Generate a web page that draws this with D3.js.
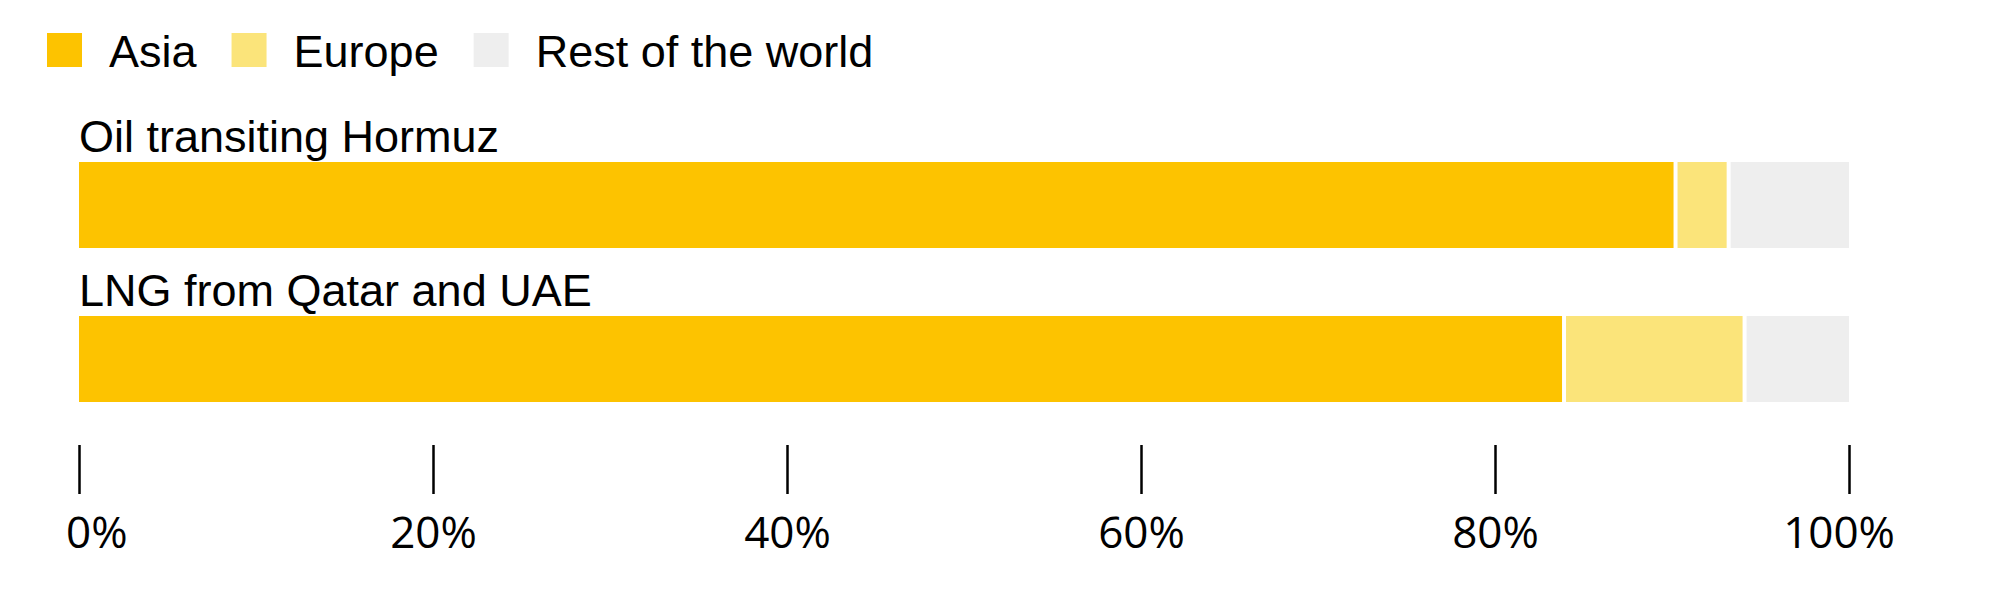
<!DOCTYPE html>
<html>
<head>
<meta charset="utf-8">
<script src="https://cdn.jsdelivr.net/npm/d3@7"></script>
<style>
  html, body { margin: 0; padding: 0; background: #fff; }
  svg { display: block; }
</style>
</head>
<body>
<svg id="chart" width="2000" height="597"></svg>
<script>
// Data
const categories = ["Oil transiting Hormuz", "LNG from Qatar and UAE"];
const seriesNames = ["Asia", "Europe", "Rest of the world"];
const asia = [90.2, 83.9];
const europe = [3.0, 10.2];
const rest = [6.8, 5.9];
const tickValues = [0, 20, 40, 60, 80, 100];

const COLORS = ["#fdc300", "#fbe47a", "#eeeeee"];
const LABEL_FONT = "'Liberation Sans', Arial, Helvetica, sans-serif";
const TICK_FONT = "'Open Sans', sans-serif";
const FONT_SIZE = 45;
const GAP = 4;

const svg = d3.select("#chart");

const rows = categories.map((c, i) => ({
  category: c,
  Asia: asia[i],
  Europe: europe[i],
  "Rest of the world": rest[i]
}));
const stacked = d3.stack().keys(seriesNames)(rows);

const x = d3.scaleLinear().domain([0, 100]).range([79, 1849]);
// bars 86px tall, one every 154px
const y = d3.scaleBand()
  .domain(categories)
  .range([162, 402])
  .paddingInner(68 / 154)
  .paddingOuter(0);

const color = d3.scaleOrdinal().domain(seriesNames).range(COLORS);

// Legend
const legend = svg.append("g");
let lx = 47;
seriesNames.forEach(name => {
  legend.append("rect")
    .attr("x", lx).attr("y", 33)
    .attr("width", 35).attr("height", 34)
    .attr("fill", color(name));
  const t = legend.append("text")
    .attr("x", lx + 62).attr("y", 67)
    .attr("font-family", LABEL_FONT)
    .attr("font-size", FONT_SIZE)
    .attr("fill", "#000")
    .text(name);
  lx = lx + 62 + t.node().getComputedTextLength() + 35;
});

// Bars
const last = stacked.length - 1;
svg.append("g")
  .selectAll("g")
  .data(stacked)
  .join("g")
  .attr("fill", d => color(d.key))
  .each(function(series, si) {
    d3.select(this).selectAll("rect")
      .data(series)
      .join("rect")
      .attr("x", d => x(d[0]) + (si > 0 ? GAP / 2 : 0))
      .attr("y", d => y(d.data.category))
      .attr("width", d => x(d[1]) - x(d[0]) - (si > 0 ? GAP / 2 : 0) - (si < last ? GAP / 2 : 0))
      .attr("height", y.bandwidth());
  });

// Category labels
svg.append("g")
  .selectAll("text")
  .data(categories)
  .join("text")
  .attr("x", 79)
  .attr("y", d => y(d) - 10)
  .attr("font-family", LABEL_FONT)
  .attr("font-size", FONT_SIZE)
  .attr("fill", "#000")
  .text(d => d);

// Axis
const axis = d3.axisBottom(x)
  .tickValues(tickValues)
  .tickFormat(d => d + "%")
  .tickSize(49)
  .tickPadding(23);
const ax = svg.append("g")
  .attr("transform", "translate(0, 445)")
  .call(axis);
ax.select(".domain").remove();
ax.selectAll(".tick line").attr("stroke", "#000").attr("stroke-width", 2.5);
ax.selectAll(".tick text")
  .attr("font-family", TICK_FONT)
  .attr("font-size", 44)
  .attr("fill", "#000")
  .attr("dy", "0.71em");
// keep end labels inside the chart
ax.selectAll(".tick text").each(function() {
  const node = this;
  const tick = node.parentNode.transform.baseVal.consolidate().matrix.e;
  const w = node.getComputedTextLength();
  let left = tick - w / 2;
  if (left < 66) left = 66;
  if (left + w > 1895) left = 1895 - w;
  d3.select(node).attr("x", left + w / 2 - tick);
});
</script>
</body>
</html>
